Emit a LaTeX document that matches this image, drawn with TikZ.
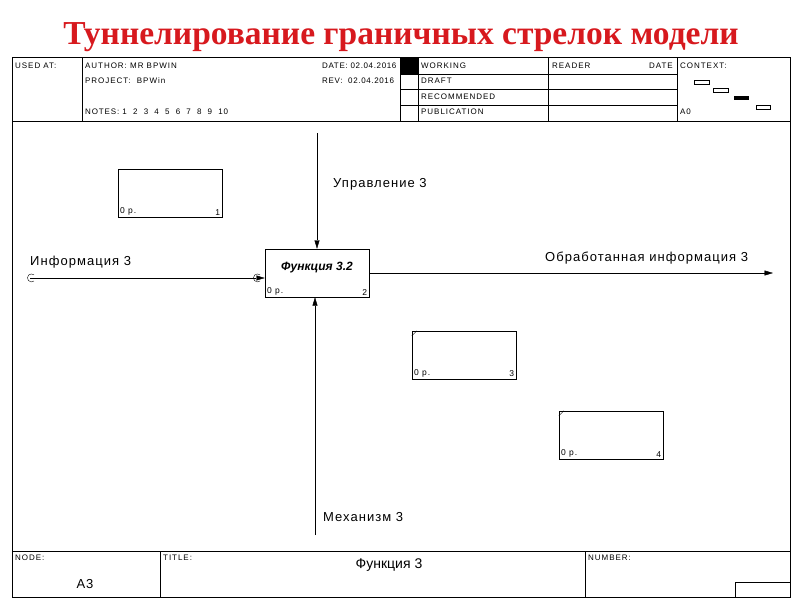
\documentclass[tikz,border=0pt]{standalone}
\usepackage{fontspec}
\setmainfont{Liberation Serif}
\setsansfont{Liberation Sans}
\newfontfamily\lblfont[LetterSpace=8]{Liberation Sans}
\newfontfamily\hdrfont[LetterSpace=12]{Liberation Sans}
\newfontfamily\notefont[LetterSpace=11]{Liberation Sans}
\usetikzlibrary{arrows.meta}
\definecolor{titlered}{RGB}{215,25,30}

\begin{document}
\begin{tikzpicture}[x=1pt,y=-1pt,font=\sffamily,
  arr/.style={-{Triangle[length=8.5pt,width=5pt]}},
  hdr/.style={anchor=base west,inner sep=0pt,font=\hdrfont\fontsize{8}{9}\selectfont},
  hdrdate/.style={anchor=base west,inner sep=0pt,font=\lblfont\fontsize{8}{9}\selectfont},
  actbox/.style={draw,minimum width=104pt,minimum height=48pt,inner sep=0pt},
  boxlbl/.style={inner sep=2pt,font=\hdrfont\fontsize{8.5}{9}\selectfont},
  arrlbl/.style={anchor=base west,inner sep=0pt,font=\lblfont\fontsize{13}{15}\selectfont}]
\useasboundingbox (0,0) rectangle (800,600);

\node[font=\rmfamily\bfseries\fontsize{33.5}{38}\selectfont,text=titlered,anchor=base] (title) at (401,44) {Туннелирование граничных стрелок модели};

\draw (12,57) rectangle (790,597);
\draw (12,121) -- (790,121);
\draw (82,57) -- (82,121);
\draw (400,57) -- (400,121);
\draw (418,57) -- (418,121);
\draw (548,57) -- (548,121);
\draw (677,57) -- (677,121);
\draw (400,74) -- (677,74);
\draw (400,89) -- (677,89);
\draw (400,105) -- (677,105);
\fill (400,57) rectangle (418,74);
\draw (694,80) rectangle (709,84);
\draw (713,88) rectangle (728,92);
\fill (734,96) rectangle (749,100);
\draw (756,105) rectangle (770,109);

\node[hdr] (usedat) at (15,68) {USED AT:};
\node[hdr] (author) at (85,68) {AUTHOR: MR BPWIN};
\node[hdr] (project) at (85,83) {PROJECT: \ BPWin};
\node[hdr,font=\notefont\fontsize{8}{9}\selectfont] (notes) at (85,114) {NOTES: 1 \ 2 \ 3 \ 4 \ 5 \ 6 \ 7 \ 8 \ 9 \ 10};
\node[hdrdate] (date) at (322,68) {DATE: 02.04.2016};
\node[hdrdate] (rev) at (322,83) {REV: \ 02.04.2016};
\node[hdr] (working) at (421,68) {WORKING};
\node[hdr] (draft) at (421,83) {DRAFT};
\node[hdr] (recom) at (421,99) {RECOMMENDED};
\node[hdr] (publ) at (421,114) {PUBLICATION};
\node[hdr] (reader) at (552,68) {READER};
\node[hdr,anchor=base east] (rdate) at (673,68) {DATE};
\node[hdr] (context) at (680,68) {CONTEXT:};
\node[hdr] (anull) at (680,114) {A0};

\draw (12,551) -- (790,551);
\draw (160,551) -- (160,597);
\draw (585,551) -- (585,597);
\draw (735,582) rectangle (790,597);
\node[hdr] (nodelbl) at (15,560) {NODE:};
\node[hdr] (titlelbl) at (163,560) {TITLE:};
\node[hdr] (numlbl) at (588,560) {NUMBER:};
\node[arrlbl,anchor=base] (nodeno) at (85,588) {A3};
\node[anchor=base,inner sep=0pt,font=\sffamily\fontsize{14}{16}\selectfont] (titletxt) at (389,568) {Функция 3};

\node[actbox] (b1) at (170,193) {};
\node[actbox] (b2) at (317,273) {};
\node[actbox] (b3) at (464,355) {};
\node[actbox] (b4) at (611,435) {};
\node[font=\sffamily\bfseries\itshape\fontsize{12}{14}\selectfont] (b2name) at (317,268) {Функция 3.2};
\draw ([yshift=-5pt]b3.north west) -- ([xshift=5pt]b3.north west);
\draw ([yshift=-5pt]b4.north west) -- ([xshift=5pt]b4.north west);
\node[boxlbl,anchor=south west] at (b1.south west) {0 р.};
\node[boxlbl,anchor=south east] at (b1.south east) {1};
\node[boxlbl,anchor=south west] at (b2.south west) {0 р.};
\node[boxlbl,anchor=south east] at (b2.south east) {2};
\node[boxlbl,anchor=south west] at (b3.south west) {0 р.};
\node[boxlbl,anchor=south east] at (b3.south east) {3};
\node[boxlbl,anchor=south west] at (b4.south west) {0 р.};
\node[boxlbl,anchor=south east] at (b4.south east) {4};

\coordinate (ctlsrc) at (317,133);
\coordinate (insrc) at (30,278);
\coordinate (outdst) at (773,273);
\coordinate (mechsrc) at (315,535);
\draw[arr] (ctlsrc) -- (b2.north);
\draw[arr] (insrc) -- (insrc -| b2.west);
\draw[arr] (b2.east) -- (outdst);
\draw[arr] (mechsrc) -- (mechsrc |- b2.south);
\draw ([xshift=4pt,yshift=-3pt]insrc) arc (50:310:4);
\draw (260,281) arc (50:310:4);

\node[arrlbl] (ctllbl) at (333,187) {Управление 3};
\node[arrlbl] (inlbl) at (30,265) {Информация 3};
\node[arrlbl] (outlbl) at (545,261) {Обработанная информация 3};
\node[arrlbl] (mechlbl) at (323,521) {Механизм 3};
\end{tikzpicture}
\end{document}
